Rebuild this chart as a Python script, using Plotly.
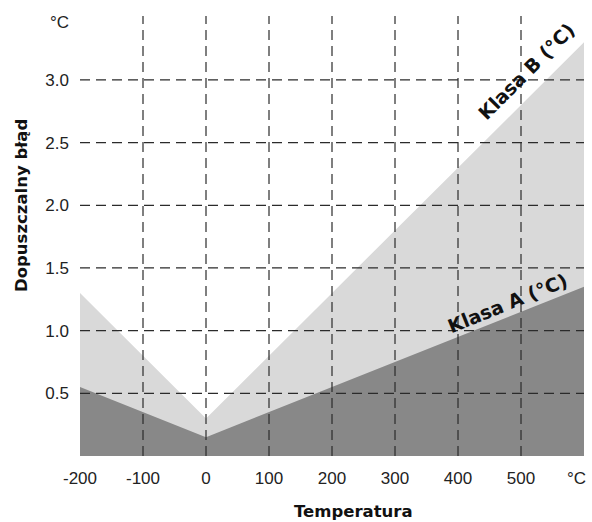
import plotly.graph_objects as go

# Data
temps = [-200, 0, 600]
class_b = [1.3, 0.3, 3.3]
class_a = [0.55, 0.15, 1.35]
x_ticks = [-200, -100, 0, 100, 200, 300, 400, 500, 588]
x_tick_labels = ["-200", "-100", "0", "100", "200", "300", "400", "500", "°C"]
y_ticks = [0.5, 1.0, 1.5, 2.0, 2.5, 3.0, 3.46]
y_tick_labels = ["0.5", "1.0", "1.5", "2.0", "2.5", "3.0", "°C"]
x_grid = [-100, 0, 100, 200, 300, 400, 500]
y_grid = [0.5, 1.0, 1.5, 2.0, 2.5, 3.0]
x_range = [-200, 600]
y_range = [0, 3.51]

W, H = 592, 522
L, R, T, B = 80, 8, 16, 66
plot_w = W - L - R
plot_h = H - T - B

fig = go.Figure()
fig.add_trace(go.Scatter(x=temps, y=class_b, mode="lines", line=dict(width=0),
                         fill="tozeroy", fillcolor="#d9d9d9", hoverinfo="skip", showlegend=False))
fig.add_trace(go.Scatter(x=temps, y=class_a, mode="lines", line=dict(width=0),
                         fill="tozeroy", fillcolor="#888888", hoverinfo="skip", showlegend=False))

grid_line = dict(color="#2b2b2b", width=1.2, dash="10px,6px")
for gx in x_grid:
    fig.add_shape(type="line", xref="x", yref="y", x0=gx, x1=gx, y0=y_range[0], y1=y_range[1],
                  line=grid_line, layer="above")
for gy in y_grid:
    fig.add_shape(type="line", xref="x", yref="y", x0=x_range[0], x1=x_range[1], y0=gy, y1=gy,
                  line=grid_line, layer="above")

label_font = dict(family="DejaVu Sans", size=19, color="#111111", weight="bold")
fig.add_annotation(x=509, y=3.07, xref="x", yref="y", text="Klasa B (°C)", showarrow=False,
                   textangle=-45, font=label_font)
fig.add_annotation(x=479, y=1.22, xref="x", yref="y", text="Klasa A (°C)", showarrow=False,
                   textangle=-22, font=label_font)

title_font = dict(family="DejaVu Sans", size=16.5, color="#111111", weight="bold")
fig.add_annotation(xref="paper", yref="paper", x=(353 - L) / plot_w, y=(H - B - 511) / plot_h,
                   xanchor="center", yanchor="middle",
                   text="Temperatura", showarrow=False, font=title_font)
fig.add_annotation(xref="paper", yref="paper", x=(22 - L) / plot_w, y=(H - B - 206) / plot_h,
                   xanchor="center", yanchor="middle",
                   text="Dopuszczalny błąd", showarrow=False, textangle=-90, font=title_font)

fig.update_layout(
    width=W, height=H,
    margin=dict(l=L, r=R, t=T, b=B),
    plot_bgcolor="white", paper_bgcolor="white",
    font=dict(family="Liberation Sans, Arial", size=17, color="#222222"),
    xaxis=dict(range=x_range, tickvals=x_ticks, ticktext=x_tick_labels,
               showgrid=False, zeroline=False, showline=False, ticks="",
               ticklabelstandoff=10, ticklabeloverflow="allow",
               fixedrange=True, automargin=False),
    yaxis=dict(range=y_range, tickvals=y_ticks, ticktext=y_tick_labels,
               showgrid=False, zeroline=False, showline=False, ticks="",
               ticklabelstandoff=10, ticklabeloverflow="allow",
               fixedrange=True, automargin=False),
)

fig.write_html("out.html", config={"displayModeBar": False},
               post_script="document.body.style.margin='0';document.body.style.overflow='hidden';")
